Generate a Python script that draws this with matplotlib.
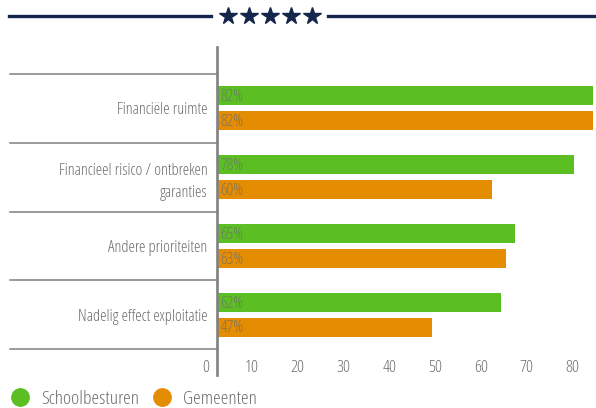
import matplotlib
matplotlib.use('Agg')
import matplotlib.pyplot as plt
import matplotlib.transforms as mtransforms
from matplotlib.lines import Line2D
import numpy as np

plt.rcParams['font.family'] = ['Open Sans', 'DejaVu Sans']
plt.rcParams['font.stretch'] = 'condensed'

categories  = ["Financiële ruimte", "Financieel risico / ontbreken\ngaranties",
               "Andere prioriteiten", "Nadelig effect exploitatie"]
school      = [82, 78, 65, 62]
gemeenten   = [82, 60, 63, 47]
series      = ["Schoolbesturen", "Gemeenten"]
xticks      = [0, 10, 20, 30, 40, 50, 60, 70, 80]

green   = "#5bbf23"
orange  = "#e48c02"
navy    = "#14264c"
grey    = "#808080"
textcol = "#6f6f6f"

W, H = 596, 408
fig = plt.figure(figsize=(W/100, H/100), dpi=100)
ax  = fig.add_axes([217/W, (H-375)/H, (593-217)/W, (375-47)/H])

y  = np.arange(len(categories))
bh = 0.277
off = 0.181
ax.barh(y-off, school, height=bh, color=green, label=series[0])
ax.barh(y+off, gemeenten, height=bh, color=orange, label=series[1])

for i in range(len(categories)):
    ax.annotate("{0}%".format(school[i]), (0, y[i]-off), xytext=(2.5, -1), textcoords="offset points",
                ha="left", va="center", fontsize=12, color="#6e6e6e", alpha=0.8)
    ax.annotate("{0}%".format(gemeenten[i]), (0, y[i]+off), xytext=(2.5, -1), textcoords="offset points",
                ha="left", va="center", fontsize=12, color="#6e6e6e", alpha=0.8)

ax.set_xlim(0, 82.1)
ax.set_ylim(len(categories)-0.5+0.378, -0.5-0.393)

# separator lines left of the axis
trans = mtransforms.blended_transform_factory(ax.transAxes, ax.transData)
for b in np.arange(len(categories)+1)-0.5:
    ax.plot([(10-217)/376, 0], [b, b], transform=trans, color=grey, lw=1.1, clip_on=False)

for s in ["top", "right", "bottom"]:
    ax.spines[s].set_visible(False)
ax.spines["left"].set_color(grey)
ax.spines["left"].set_linewidth(1.9)

ax.set_yticks(y)
ax.set_yticklabels(categories, fontsize=11.8, color=textcol, linespacing=1.45)
ax.set_xticks(xticks)
ax.set_xticklabels([str(t) for t in xticks], fontsize=12.5, color=textcol)
ax.tick_params(axis="both", length=0)
ax.tick_params(axis="y", pad=7)
ax.tick_params(axis="x", pad=-10.5)
shift = mtransforms.ScaledTranslation(-11/100, 0, fig.dpi_scale_trans)
for lab in ax.get_xticklabels():
    lab.set_transform(lab.get_transform() + shift)

# header with stars
fig.add_artist(Line2D([9/W, 211/W], [1-16/H, 1-16/H], color=navy, lw=2.4))
fig.add_artist(Line2D([328/W, 1.0], [1-16/H, 1-16/H], color=navy, lw=2.4))
for sx in [228, 249, 270, 291, 312]:
    fig.add_artist(Line2D([sx/W], [1-16/H], marker="*", markersize=13, color=navy, lw=0))

handles = [Line2D([], [], marker="o", markersize=12.5, color=c, lw=0) for c in [green, orange]]
fig.legend(handles, series, loc="center left", bbox_to_anchor=(9.3/W, 1-399/H), frameon=False, ncol=2,
           fontsize=14, labelcolor=textcol, borderpad=0, borderaxespad=0, handlelength=1.1,
           handletextpad=0.53, columnspacing=0.63)

plt.savefig("out.png", dpi=100)
